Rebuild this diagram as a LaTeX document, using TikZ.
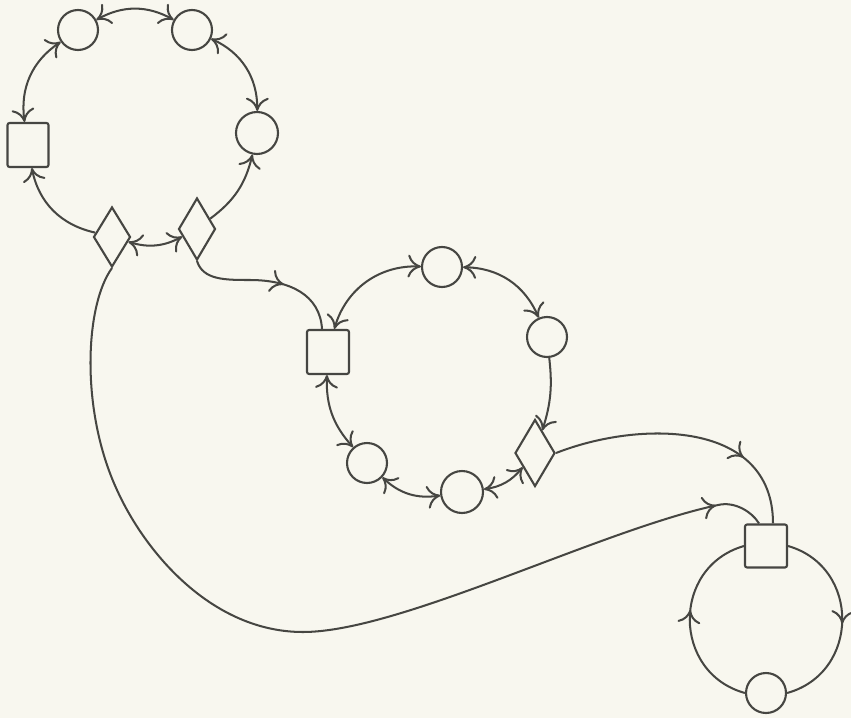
\documentclass[tikz,border=0pt]{standalone}
\usetikzlibrary{arrows.meta,shapes.geometric,decorations.markings}
\definecolor{paper}{RGB}{248,247,239}
\definecolor{ink}{RGB}{70,70,66}
\begin{document}
\begin{tikzpicture}[x=0.02cm, y=0.02cm,
  >={Computer Modern Rightarrow[length=7.5pt,width=13pt]},
  circ/.style={circle, draw=ink, line width=1.2pt, minimum size=0.8cm, inner sep=0pt},
  sq/.style={rectangle, draw=ink, line width=1.2pt, minimum width=0.84cm, minimum height=0.88cm, rounded corners=1.2pt, inner sep=0pt},
  dia/.style={diamond, draw=ink, line width=1.2pt, minimum width=0.74cm, minimum height=1.2cm, inner sep=0pt},
  link/.style={color=ink, line width=1.15pt},
  midarrow/.style={postaction={decorate}, decoration={markings, mark=at position #1 with {\arrow{>}}}}
]
\path[use as bounding box, fill=paper] (0,0) rectangle (851,718);

% nodes
\node[circ] (c1) at (78,688) {};
\node[circ] (c2) at (192,688) {};
\node[circ, minimum size=0.84cm] (c3) at (257,585) {};
\node[sq, minimum width=0.82cm] (s1) at (28,573) {};
\node[dia] (d1) at (112,481) {};
\node[dia, minimum height=1.24cm] (d2) at (197,489) {};
\node[sq] (s2) at (328,366) {};
\node[circ] (c4) at (442,451) {};
\node[circ] (c5) at (547,381) {};
\node[dia, minimum width=0.8cm, minimum height=1.34cm] (d3) at (535,265) {};
\node[circ, minimum size=0.84cm] (c6) at (462,226) {};
\node[circ] (c7) at (367,255) {};
\node[sq, minimum height=0.86cm] (s3) at (766,172) {};
\node[circ] (c8) at (766,25) {};

% upper ring
\draw[link,<->] (c1) to[bend left=29] (c2);
\draw[link,<->] (c2) to[bend left=33] (c3);
\draw[link,->] (d2) to[bend right=20] (c3);
\draw[link,<->] (d1) to[bend right=22] (d2);
\draw[link,->] (d1) to[bend left=33] (s1);
\draw[link,<->] (s1) to[bend left=32] (c1);

% middle ring
\draw[link,<->] (s2) to[bend left=38] (c4);
\draw[link,<->] (c4) to[bend left=33] (c5);
\draw[link,->] (c5) to[bend left=12] (d3);
\draw[link,<->] (d3) to[bend left=21] (c6);
\draw[link,<->] (c6) to[bend left=26] (c7);
\draw[link,<->] (c7) to[bend left=22] (s2);

% lower ring
\draw[link, midarrow=0.52] (s3.east) .. controls (861,151) and (860,45) .. (c8.east);
\draw[link, midarrow=0.55] (c8.west) .. controls (672,45) and (671,151) .. (s3.west);

% long connectors
\draw[link, midarrow=0.6] (d2.south) .. controls (203,438) and (225,438) .. (250,438)
  .. controls (290,438) and (320,423) .. ([xshift=-0.12cm]s2.north);
\draw[link, midarrow=-1.5cm] (d3.east) .. controls (640,298) and (773,298) .. ([xshift=0.14cm]s3.north);
\draw[link, midarrow=-1.0cm] (d1.south) .. controls (85,413) and (80,308) .. (117,228)
  .. controls (146,164) and (213,86) .. (303,86)
  .. controls (400,86) and (600,188) .. (718,213)
  .. controls (735,217) and (752,206) .. ([xshift=-0.14cm]s3.north);
\end{tikzpicture}
\end{document}
